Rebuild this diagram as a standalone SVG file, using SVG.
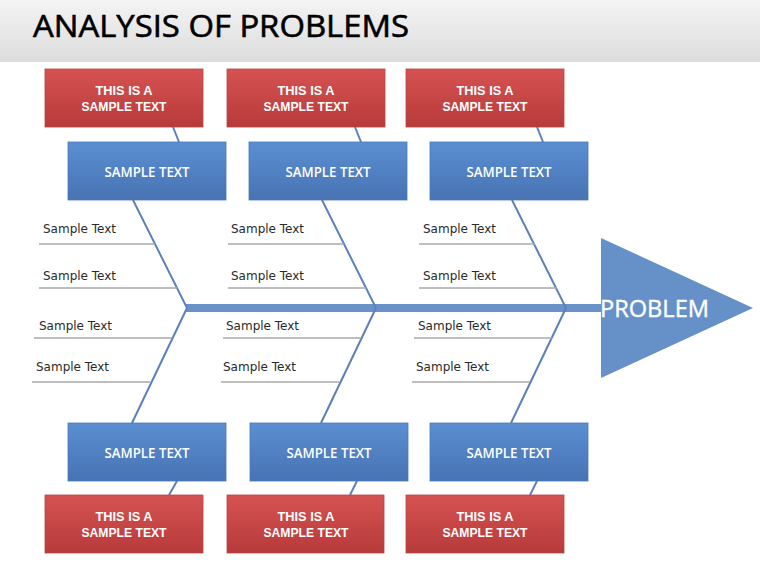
<svg xmlns="http://www.w3.org/2000/svg" width="760" height="570" viewBox="0 0 760 570">
<defs>
<linearGradient id="hdr" x1="0" y1="0" x2="0" y2="1">
<stop offset="0" stop-color="#f4f4f4"/><stop offset="1" stop-color="#dcdcdc"/>
</linearGradient>
<linearGradient id="blue" x1="0" y1="0" x2="0" y2="1">
<stop offset="0" stop-color="#5a8fd2"/><stop offset="1" stop-color="#4873b3"/>
</linearGradient>
<linearGradient id="red" x1="0" y1="0" x2="0" y2="1">
<stop offset="0" stop-color="#d65252"/><stop offset="1" stop-color="#b73a3a"/>
</linearGradient>
<style>
.bx{fill:url(#blue);stroke:#4a78b8;stroke-width:0.8}
.rx{fill:url(#red);stroke:#b84444;stroke-width:0.8}
.bt{font-family:"Open Sans","Liberation Sans",Arial,sans-serif;font-size:14px;font-weight:600;fill:#ffffff;text-anchor:middle}
.rt{font-family:"Liberation Sans",Arial,sans-serif;font-size:13px;font-weight:bold;fill:#ffffff;text-anchor:middle}
.st{font-family:"DejaVu Sans",Verdana,sans-serif;font-size:12px;fill:#2a2a2a}
.rib{stroke:#a8a8a8;stroke-width:1.5;fill:none}
.dg{stroke:#5b80bb;stroke-width:2;fill:none}
</style>
</defs>
<rect width="760" height="570" fill="#ffffff"/>
<g id="header">
<rect x="0" y="0" width="760" height="62" fill="url(#hdr)"/>
<text x="33" y="37" font-family="'Open Sans','Liberation Sans',sans-serif" font-size="31" font-weight="500" fill="#000000" stroke="#000000" stroke-width="0.6" textLength="376" lengthAdjust="spacingAndGlyphs">ANALYSIS OF PROBLEMS</text>
</g>
<g id="connectors">
<rect x="186" y="304" width="416" height="8" fill="#6892c8"/>
<line class="dg" x1="173" y1="127" x2="179" y2="142"/>
<line class="dg" x1="355" y1="127" x2="361" y2="142"/>
<line class="dg" x1="537" y1="127" x2="543" y2="142"/>
<line class="dg" x1="177" y1="481" x2="169" y2="495"/>
<line class="dg" x1="357" y1="481" x2="350" y2="495"/>
<line class="dg" x1="537" y1="481" x2="530" y2="495"/>
<line class="dg" x1="133" y1="200" x2="187" y2="308"/>
<line class="dg" x1="187" y1="308" x2="132" y2="423"/>
<line class="dg" x1="322" y1="200" x2="376" y2="308"/>
<line class="dg" x1="376" y1="308" x2="321" y2="423"/>
<line class="dg" x1="512" y1="200" x2="566" y2="308"/>
<line class="dg" x1="566" y1="308" x2="511" y2="423"/>
<line class="rib" x1="39" y1="244" x2="155" y2="244"/>
<line class="rib" x1="39" y1="288" x2="177" y2="288"/>
<line class="rib" x1="34" y1="338" x2="172" y2="338"/>
<line class="rib" x1="32" y1="382" x2="150" y2="382"/>
<line class="rib" x1="228" y1="244" x2="344" y2="244"/>
<line class="rib" x1="228" y1="288" x2="366" y2="288"/>
<line class="rib" x1="223" y1="338" x2="361" y2="338"/>
<line class="rib" x1="221" y1="382" x2="339" y2="382"/>
<line class="rib" x1="419" y1="244" x2="535" y2="244"/>
<line class="rib" x1="419" y1="288" x2="557" y2="288"/>
<line class="rib" x1="414" y1="338" x2="552" y2="338"/>
<line class="rib" x1="412" y1="382" x2="530" y2="382"/>
</g>
<g id="labels">
<text class="st" x="43" y="233">Sample Text</text>
<text class="st" x="43" y="280">Sample Text</text>
<text class="st" x="39" y="330">Sample Text</text>
<text class="st" x="36" y="371">Sample Text</text>
<text class="st" x="231" y="233">Sample Text</text>
<text class="st" x="231" y="280">Sample Text</text>
<text class="st" x="226" y="330">Sample Text</text>
<text class="st" x="223" y="371">Sample Text</text>
<text class="st" x="423" y="233">Sample Text</text>
<text class="st" x="423" y="280">Sample Text</text>
<text class="st" x="418" y="330">Sample Text</text>
<text class="st" x="416" y="371">Sample Text</text>
</g>
<g id="red-top-1"><rect class="rx" x="45" y="69" width="158" height="58"/><text class="rt" x="124" y="95" textLength="57" lengthAdjust="spacingAndGlyphs">THIS IS A</text><text class="rt" x="124" y="111" textLength="85" lengthAdjust="spacingAndGlyphs">SAMPLE TEXT</text></g>
<g id="red-top-2"><rect class="rx" x="227" y="69" width="158" height="58"/><text class="rt" x="306" y="95" textLength="57" lengthAdjust="spacingAndGlyphs">THIS IS A</text><text class="rt" x="306" y="111" textLength="85" lengthAdjust="spacingAndGlyphs">SAMPLE TEXT</text></g>
<g id="red-top-3"><rect class="rx" x="406" y="69" width="158" height="58"/><text class="rt" x="485" y="95" textLength="57" lengthAdjust="spacingAndGlyphs">THIS IS A</text><text class="rt" x="485" y="111" textLength="85" lengthAdjust="spacingAndGlyphs">SAMPLE TEXT</text></g>
<g id="blue-top-1"><rect class="bx" x="68" y="142" width="158" height="58"/><text class="bt" x="147" y="177" textLength="85" lengthAdjust="spacingAndGlyphs">SAMPLE TEXT</text></g>
<g id="blue-top-2"><rect class="bx" x="249" y="142" width="158" height="58"/><text class="bt" x="328" y="177" textLength="85" lengthAdjust="spacingAndGlyphs">SAMPLE TEXT</text></g>
<g id="blue-top-3"><rect class="bx" x="430" y="142" width="158" height="58"/><text class="bt" x="509" y="177" textLength="85" lengthAdjust="spacingAndGlyphs">SAMPLE TEXT</text></g>
<g id="blue-bot-1"><rect class="bx" x="68" y="423" width="158" height="58"/><text class="bt" x="147" y="458" textLength="85" lengthAdjust="spacingAndGlyphs">SAMPLE TEXT</text></g>
<g id="blue-bot-2"><rect class="bx" x="250" y="423" width="158" height="58"/><text class="bt" x="329" y="458" textLength="85" lengthAdjust="spacingAndGlyphs">SAMPLE TEXT</text></g>
<g id="blue-bot-3"><rect class="bx" x="430" y="423" width="158" height="58"/><text class="bt" x="509" y="458" textLength="85" lengthAdjust="spacingAndGlyphs">SAMPLE TEXT</text></g>
<g id="red-bot-1"><rect class="rx" x="45" y="495" width="158" height="58"/><text class="rt" x="124" y="521" textLength="57" lengthAdjust="spacingAndGlyphs">THIS IS A</text><text class="rt" x="124" y="537" textLength="85" lengthAdjust="spacingAndGlyphs">SAMPLE TEXT</text></g>
<g id="red-bot-2"><rect class="rx" x="227" y="495" width="157" height="58"/><text class="rt" x="306" y="521" textLength="57" lengthAdjust="spacingAndGlyphs">THIS IS A</text><text class="rt" x="306" y="537" textLength="85" lengthAdjust="spacingAndGlyphs">SAMPLE TEXT</text></g>
<g id="red-bot-3"><rect class="rx" x="406" y="495" width="158" height="58"/><text class="rt" x="485" y="521" textLength="57" lengthAdjust="spacingAndGlyphs">THIS IS A</text><text class="rt" x="485" y="537" textLength="85" lengthAdjust="spacingAndGlyphs">SAMPLE TEXT</text></g>
<g id="problem">
<polygon points="601,238 753,308 601,378" fill="#6590c8"/>
<text x="600" y="317" font-family="'Open Sans','Liberation Sans',Arial,sans-serif" font-size="24" font-weight="500" fill="#ffffff" stroke="#ffffff" stroke-width="0.4" textLength="109" lengthAdjust="spacingAndGlyphs">PROBLEM</text>
</g>
</svg>
